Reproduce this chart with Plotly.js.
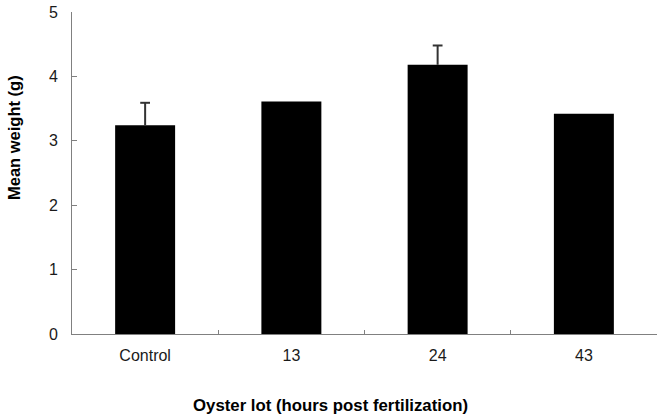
<!DOCTYPE html>
<html>
<head>
<meta charset="utf-8">
<script src="https://cdn.plot.ly/plotly-3.0.1.min.js"></script>
<style>html,body{margin:0;padding:0;background:#fff;}#chart{width:664px;height:420px;}</style>
</head>
<body>
<div id="chart"></div>
<script>
const categories = ["Control", "13", "24", "43"];
const meanWeight = [3.24, 3.61, 4.18, 3.42];
const errorPlus = [0.35, null, 0.30, null];
const yTickVals = [0, 1, 2, 3, 4, 5];
const xTitle = "Oyster lot (hours post fertilization)";
const yTitle = "Mean weight (g)";

const errColor = "#333333";

const barTrace = {
  type: "bar",
  x: categories,
  y: meanWeight,
  marker: {color: "#000000", line: {width: 0}},
  error_y: {
    type: "data",
    symmetric: false,
    array: errorPlus.map(v => (v === null ? 0 : v)),
    arrayminus: categories.map(() => 0),
    color: errColor,
    thickness: 2,
    width: 0
  },
  hoverinfo: "none"
};

// caps on top of the error bars
const capTrace = {
  type: "scatter",
  mode: "markers",
  x: categories,
  y: meanWeight.map((v, i) => (errorPlus[i] === null ? null : v + errorPlus[i])),
  marker: {symbol: "line-ew", size: 7, line: {width: 2, color: errColor}, color: errColor},
  hoverinfo: "none",
  showlegend: false
};

const layout = {
  width: 664,
  height: 420,
  margin: {l: 72, r: 7, t: 12, b: 86},
  paper_bgcolor: "#ffffff",
  plot_bgcolor: "#ffffff",
  showlegend: false,
  bargap: 0.59,
  font: {family: "Liberation Sans, Arial, sans-serif", color: "#1a1a1a"},
  xaxis: {
    type: "category",
    range: [-0.5, 3.5],
    showgrid: false,
    zeroline: false,
    showline: true,
    linecolor: "#808080",
    linewidth: 1,
    ticks: "inside",
    tickson: "boundaries",
    ticklen: 4,
    tickcolor: "#808080",
    tickfont: {size: 16, color: "#1a1a1a"},
    ticklabelstandoff: 7
  },
  yaxis: {
    range: [0, 5],
    tickvals: yTickVals,
    showgrid: false,
    zeroline: false,
    showline: true,
    linecolor: "#808080",
    linewidth: 1,
    ticks: "inside",
    ticklen: 5,
    tickcolor: "#808080",
    tickfont: {size: 16, color: "#1a1a1a"},
    ticklabelstandoff: 10
  },
  annotations: [
    {
      text: xTitle, xref: "paper", yref: "paper",
      x: (330 - 72) / 585, y: -(405 - 334) / 322,
      xanchor: "center", yanchor: "middle", showarrow: false,
      font: {size: 16.8, color: "#000000", family: "Liberation Sans, Arial, sans-serif", weight: "bold"}
    },
    {
      text: yTitle, xref: "paper", yref: "paper",
      x: -(72 - 14) / 585, y: (334 - 138) / 322,
      xanchor: "center", yanchor: "middle", showarrow: false, textangle: -90,
      font: {size: 16.5, color: "#000000", family: "Liberation Sans, Arial, sans-serif", weight: "bold"}
    }
  ]
};

Plotly.newPlot("chart", [barTrace, capTrace], layout, {displayModeBar: false, staticPlot: true});
</script>
</body>
</html>
